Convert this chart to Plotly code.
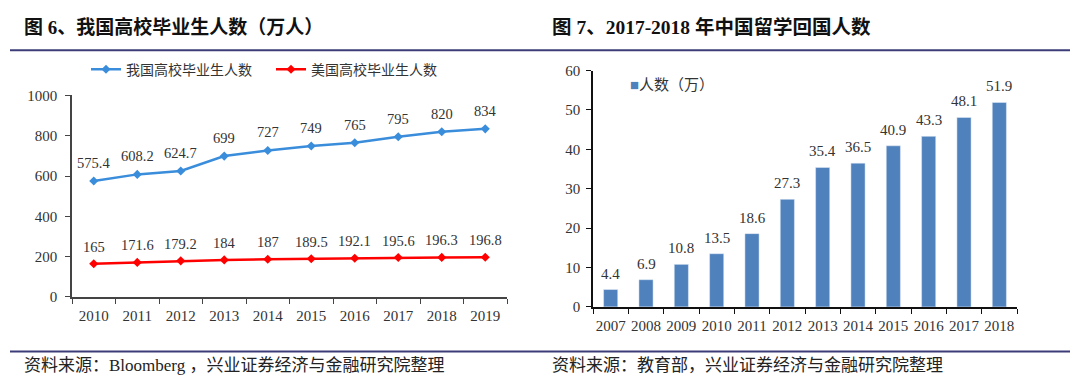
import plotly.graph_objects as go

years_left = ["2010", "2011", "2012", "2013", "2014", "2015", "2016", "2017", "2018", "2019"]
china_grads = [575.4, 608.2, 624.7, 699, 727, 749, 765, 795, 820, 834]
us_grads = [165, 171.6, 179.2, 184, 187, 189.5, 192.1, 195.6, 196.3, 196.8]
china_text = ["575.4", "608.2", "624.7", "699", "727", "749", "765", "795", "820", "834"]
us_text = ["165", "171.6", "179.2", "184", "187", "189.5", "192.1", "195.6", "196.3", "196.8"]

years_right = ["2007", "2008", "2009", "2010", "2011", "2012", "2013", "2014", "2015", "2016", "2017", "2018"]
returnees = [4.4, 6.9, 10.8, 13.5, 18.6, 27.3, 35.4, 36.5, 40.9, 43.3, 48.1, 51.9]
returnees_text = ["4.4", "6.9", "10.8", "13.5", "18.6", "27.3", "35.4", "36.5", "40.9", "43.3", "48.1", "51.9"]

W, H = 1080, 382
OFF = 8  # page body margin
def px(x):
    return (x - OFF) / W
def py(y):
    t = (y - 6.3) / 0.965
    return 1 - (t - OFF) / H

SERIF = "Liberation Serif, Noto Sans CJK SC"
fig = go.Figure()

fig.add_trace(go.Scatter(x=years_left, y=china_grads, name="我国高校毕业生人数", mode="lines+markers",
                         line=dict(color="#3a8ddb", width=2.5), marker=dict(symbol="diamond", size=7),
                         xaxis="x", yaxis="y", legend="legend"))
fig.add_trace(go.Scatter(x=years_left, y=us_grads, name="美国高校毕业生人数", mode="lines+markers",
                         line=dict(color="#ff0000", width=2.5), marker=dict(symbol="diamond", size=7),
                         xaxis="x", yaxis="y", legend="legend"))
fig.add_trace(go.Bar(x=years_right, y=returnees, name="人数（万）", marker=dict(color="#4f81bd"),
                     showlegend=False, xaxis="x2", yaxis="y2"))

annotations = []
LBL = dict(family=SERIF, size=14.5, color="#333")
for i, (yv, t) in enumerate(zip(china_grads, china_text)):
    annotations.append(dict(x=i, y=yv, xref="x", yref="y", text=t, showarrow=False, yshift=18, font=LBL))
for i, (yv, t) in enumerate(zip(us_grads, us_text)):
    annotations.append(dict(x=i, y=yv, xref="x", yref="y", text=t, showarrow=False, yshift=17, font=LBL))
for i, (yv, t) in enumerate(zip(returnees, returnees_text)):
    annotations.append(dict(x=i, y=yv, xref="x2", yref="y2", text=t, showarrow=False, yshift=16,
                            font=dict(family=SERIF, size=15, color="#333")))

annotations += [
    dict(x=px(22), y=py(25), xref="paper", yref="paper", xanchor="left", yanchor="middle", showarrow=False,
         text="<b>图 6、我国高校毕业生人数（万人）</b>", font=dict(family=SERIF, size=19, color="#111")),
    dict(x=px(550), y=py(25), xref="paper", yref="paper", xanchor="left", yanchor="middle", showarrow=False,
         text="<b>图 7、2017-2018 年中国留学回国人数</b>", font=dict(family=SERIF, size=19.5, color="#111")),
    dict(x=px(22), y=py(366), xref="paper", yref="paper", xanchor="left", yanchor="middle", showarrow=False,
         text="资料来源：Bloomberg ，兴业证券经济与金融研究院整理", font=dict(family=SERIF, size=17, color="#222")),
    dict(x=px(550), y=py(366), xref="paper", yref="paper", xanchor="left", yanchor="middle", showarrow=False,
         text="资料来源：教育部，兴业证券经济与金融研究院整理", font=dict(family=SERIF, size=17, color="#222")),
    dict(x=px(628), y=py(84), xref="paper", yref="paper", xanchor="left", yanchor="middle", showarrow=False,
         text="<span style='color:#4f81bd'>■</span>人数（万）", font=dict(family=SERIF, size=15, color="#333")),
]

shapes = [
    dict(type="line", xref="paper", yref="paper", x0=px(10), x1=px(1070), y0=py(48.5), y1=py(48.5),
         line=dict(color="#3c3c78", width=2)),
    dict(type="line", xref="paper", yref="paper", x0=px(10), x1=px(1070), y0=py(352), y1=py(352),
         line=dict(color="#3c3c78", width=2)),
]

fig.update_layout(
    width=W, height=H, margin=dict(l=0, r=0, t=0, b=0),
    paper_bgcolor="white", plot_bgcolor="white",
    font=dict(family=SERIF, color="#333"),
    bargap=0.6,
    annotations=annotations, shapes=shapes,
    xaxis=dict(domain=[px(72), px(507)], type="category", range=[-0.5, 9.5], showgrid=False, showline=True,
               linecolor="#444", linewidth=1.5, ticks="outside", tickson="boundaries", ticklen=5,
               tickcolor="#444", tickangle=0, ticklabelstandoff=4,
               tickfont=dict(family=SERIF, size=15, color="#333"), anchor="y"),
    yaxis=dict(domain=[py(297), py(94)], range=[0, 1000], dtick=200, showgrid=False, showline=True,
               linecolor="#444", linewidth=1.5, ticks="outside", ticklen=5, tickcolor="#444",
               ticklabelstandoff=5, tickfont=dict(family=SERIF, size=15, color="#333"), anchor="x",
               zeroline=False),
    xaxis2=dict(domain=[px(593), px(1017)], type="category", range=[-0.5, 11.5], showgrid=False, showline=True,
                linecolor="#111", linewidth=1.5, ticks="outside", tickson="boundaries", ticklen=5,
                tickcolor="#111", tickangle=0, ticklabelstandoff=4,
                tickfont=dict(family=SERIF, size=15, color="#333"), anchor="y2"),
    yaxis2=dict(domain=[py(307), py(69)], range=[0, 60], dtick=10, showgrid=False, showline=True,
                linecolor="#111", linewidth=1.5, ticks="outside", ticklen=5, tickcolor="#111",
                ticklabelstandoff=3, tickfont=dict(family=SERIF, size=15, color="#333"), anchor="x2",
                zeroline=False),
    legend=dict(orientation="h", x=px(86), y=py(68), xanchor="left", yanchor="middle", itemwidth=30,
                entrywidth=140, entrywidthmode="pixels",
                font=dict(family=SERIF, size=14, color="#333"), bgcolor="rgba(0,0,0,0)"),
    showlegend=True,
)

fig.write_html("out.html")
